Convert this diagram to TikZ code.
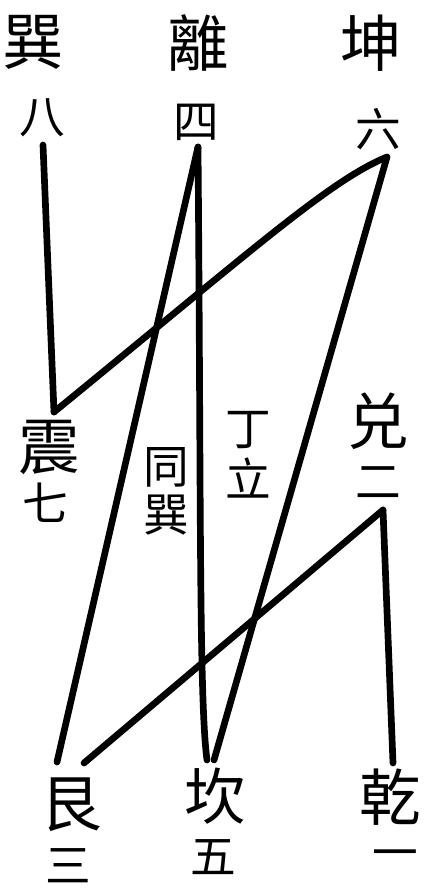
\documentclass[tikz,border=0pt]{standalone}
\usepackage{fontspec}
\newfontfamily\cjk{Noto Sans CJK SC}

\begin{document}
\begin{tikzpicture}[x=0.02cm, y=-0.02cm]
        \tikzstyle{every node}=[inner sep=0pt]
        \tikzstyle{gua}=[font=\cjk\fontsize{35}{35}\selectfont]
        \tikzstyle{shu}=[font=\cjk\fontsize{26}{26}\selectfont]
        \tikzstyle{xian}=[line width=3.8pt, line cap=round]
        \useasboundingbox (0,0) rectangle (429,889);

        % top row
        \node[gua] at (33, 42) (xun) {巽};
        \node[gua] at (198, 43) (li) {離};
        \node[gua] at (371, 43) (kun) {坤};
        \node[shu] at (42, 118) (ba) {八};
        \node[shu] at (196, 122) (si) {四};
        \node[shu] at (378, 129) (liu) {六};

        % middle row
        \node[gua] at (49, 447) (zhen) {震};
        \node[shu] at (45, 503) (qi) {七};
        \node[shu] at (166, 467) (tong) {同};
        \node[shu] at (166, 515) (xunb) {巽};
        \node[shu] at (248, 430) (ding) {丁};
        \node[shu] at (248, 478) (lizhu) {立};
        \node[gua] at (378, 421) (dui) {兑};
        \node[shu] at (378, 483) (er) {二};

        % bottom row
        \node[gua] at (71, 805) (gen) {艮};
        \node[shu] at (68, 866) (san) {三};
        \node[gua] at (215, 796) (kan) {坎};
        \node[shu] at (213, 857) (wu) {五};
        \node[gua] at (390, 797) (qian) {乾};
        \node[shu] at (395, 860) (yi) {一};

        % line ends
        \coordinate (ba-end) at (43, 145);
        \coordinate (si-end) at (198, 147);
        \coordinate (liu-end) at (387, 157);
        \coordinate (zhen-top) at (54, 412);
        \coordinate (dui-end) at (383, 510);
        \coordinate (gen-top) at (57, 762);
        \coordinate (gen-top2) at (84, 763);
        \coordinate (kan-top) at (207, 760);
        \coordinate (kan-top2) at (214, 760);
        \coordinate (qian-top) at (393, 763);

        \draw[xian] (ba-end) -- (zhen-top);
        \draw[xian] (zhen-top) .. controls (250, 252) and (330, 180) .. (liu-end);
        \draw[xian] (si-end) -- (gen-top);
        \draw[xian] (si-end) .. controls (201, 500) and (199, 700) .. (kan-top);
        \draw[xian] (liu-end) -- (kan-top2);
        \draw[xian] (dui-end) -- (gen-top2);
        \draw[xian] (dui-end) -- (qian-top);
\end{tikzpicture}
\end{document}
